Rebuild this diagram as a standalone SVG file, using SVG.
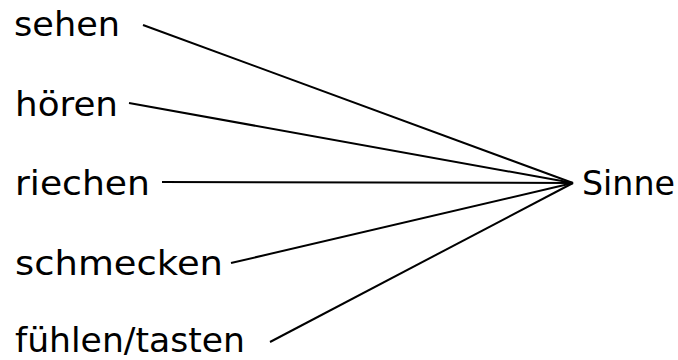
<svg xmlns="http://www.w3.org/2000/svg" width="678" height="360" viewBox="0 0 678 360">
<style>
text{font-family:"DejaVu Sans","Liberation Sans",sans-serif;font-size:34px;fill:#000}
.c line{stroke:#000;stroke-width:2}
</style>
<rect width="678" height="360" fill="#fff"/>
<g id="sehen"><text x="14" y="36" textLength="106" lengthAdjust="spacingAndGlyphs">sehen</text></g>
<g id="hoeren"><text x="15" y="116" textLength="103" lengthAdjust="spacingAndGlyphs">hören</text></g>
<g id="riechen"><text x="15" y="195" textLength="135" lengthAdjust="spacingAndGlyphs">riechen</text></g>
<g id="schmecken"><text x="15" y="275" textLength="208" lengthAdjust="spacingAndGlyphs">schmecken</text></g>
<g id="fuehlen"><text x="15" y="352" textLength="230" lengthAdjust="spacingAndGlyphs">fühlen/tasten</text></g>
<g id="sinne"><text x="582" y="195" textLength="93" lengthAdjust="spacingAndGlyphs">Sinne</text></g>
<g class="c" id="connectors">
<line x1="143" y1="25" x2="573" y2="183"/>
<line x1="129" y1="103" x2="573" y2="183"/>
<line x1="162" y1="182" x2="573" y2="183"/>
<line x1="231" y1="263" x2="573" y2="183"/>
<line x1="270" y1="342" x2="573" y2="183"/>
</g>
</svg>
